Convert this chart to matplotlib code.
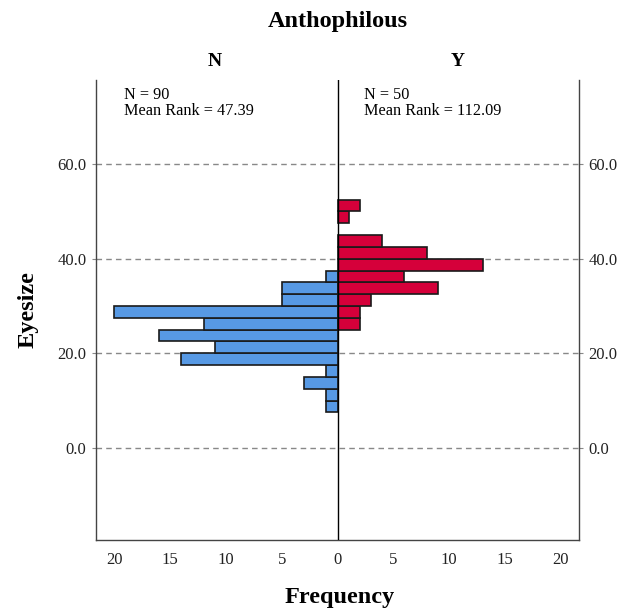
import matplotlib
matplotlib.use("Agg")
import matplotlib.pyplot as plt
import numpy as np

plt.rcParams['font.family'] = ['Liberation Serif', 'DejaVu Serif']

bin_edges_low = [7.5, 10, 12.5, 15, 17.5, 20, 22.5, 25, 27.5, 30, 32.5, 35, 37.5, 40, 42.5, 45, 47.5, 50]
bin_width = 2.5
counts_N = [1, 1, 3, 1, 14, 11, 16, 12, 20, 5, 5, 1, 0, 0, 0, 0, 0, 0]
counts_Y = [0, 0, 0, 0, 0, 0, 0, 2, 2, 3, 9, 6, 13, 8, 4, 0, 1, 2]
groups = ["N", "Y"]
n_labels = ["N = 90\nMean Rank = 47.39", "N = 50\nMean Rank = 112.09"]
yticks = [0, 20, 40, 60]
xticks = [-20, -15, -10, -5, 0, 5, 10, 15, 20]

fig = plt.figure(figsize=(6.27, 6.10), dpi=100)
ax = fig.add_axes([96/627, 1-540/610, (579-96)/627, (540-80)/610])
ax.set_xlim(-21.65, 21.65)
ax.set_ylim(-19.5, 77.8)

blue = "#5799E4"
red = "#D5003A"
ylow = np.array(bin_edges_low)
cN = np.array(counts_N)
cY = np.array(counts_Y)
mN = cN > 0
mY = cY > 0
ax.barh(ylow[mN], -cN[mN], height=bin_width, align='edge', color=blue,
        edgecolor="#1a1a1a", linewidth=1.2, zorder=3)
ax.barh(ylow[mY], cY[mY], height=bin_width, align='edge', color=red,
        edgecolor="#1a1a1a", linewidth=1.2, zorder=3)

for yv in yticks:
    ax.axhline(yv, color="#888888", linestyle=(0, (4, 3)), linewidth=1.0, zorder=1)
ax.axvline(0, color="black", linewidth=1.0, zorder=4)

ax.spines['top'].set_visible(False)
for s in ['left', 'right', 'bottom']:
    ax.spines[s].set_color("#444444")
    ax.spines[s].set_linewidth(1.0)

ax.set_yticks(yticks)
ax.set_yticklabels([f"{v:.1f}" for v in yticks])
ax.tick_params(axis='y', which='both', left=True, right=True, labelleft=True,
               labelright=True, length=3, color="#888888", labelsize=12, pad=4,
               labelcolor="#222222")
ax.set_xticks(xticks)
ax.set_xticklabels([str(abs(v)) for v in xticks])
ax.tick_params(axis='x', length=0, labelsize=12, pad=9, labelcolor="#222222")

ax.text(-19.1, 76.3, n_labels[0], fontsize=11.7, va='top', ha='left', linespacing=1.0)
ax.text(2.4, 76.3, n_labels[1], fontsize=11.7, va='top', ha='left', linespacing=1.0)

fig.text(338/627, 1-22/610, "Anthophilous", ha='center', va='center', fontsize=17.5, fontweight='bold')
fig.text(215/627, 1-62/610, groups[0], ha='center', va='center', fontsize=14, fontweight='bold')
fig.text(458/627, 1-62/610, groups[1], ha='center', va='center', fontsize=14, fontweight='bold')
fig.text(28/627, 1-310/610, "Eyesize", ha='center', va='center', rotation=90, fontsize=17.5, fontweight='bold')
fig.text(340/627, 1-598/610, "Frequency", ha='center', va='center', fontsize=17.5, fontweight='bold')

fig.savefig("out.png", dpi=100)
